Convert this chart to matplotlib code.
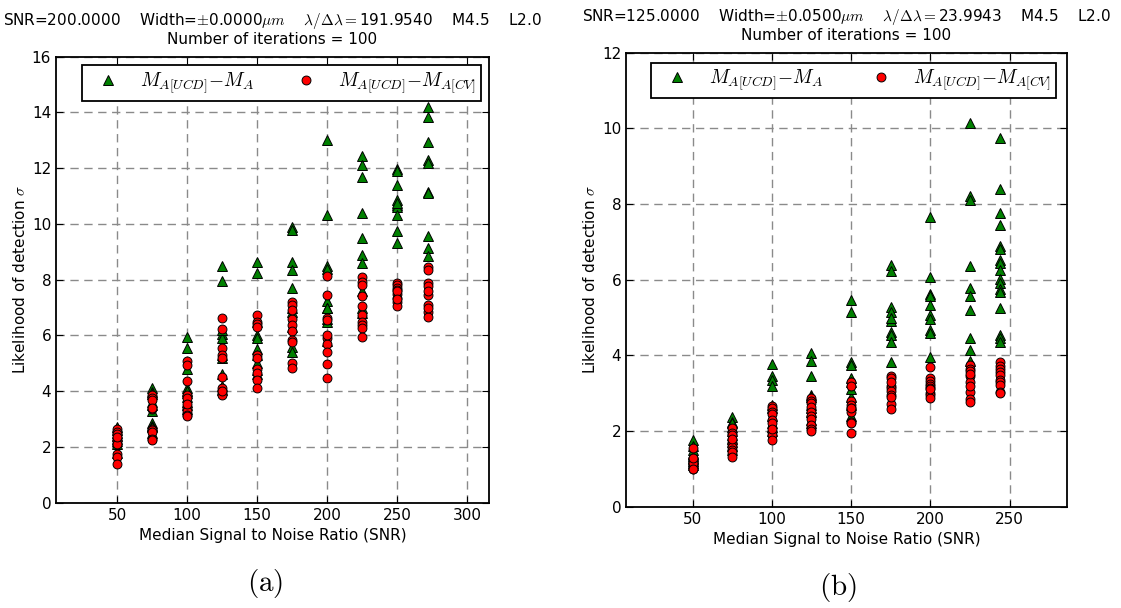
import matplotlib
matplotlib.use("Agg")
import matplotlib.pyplot as plt
import numpy as np

plt.rcParams['mathtext.fontset'] = 'cm'
plt.rcParams['font.family'] = ['DejaVu Sans']

# ---------------- data: panel (a) ----------------
snr_a = [50, 75, 100, 125, 150, 175, 200, 225, 250, 272]
tri_a = [
    [2.72, 2.6, 2.4, 2.3, 2.1, 1.8, 2.5, 2.2],
    [4.12, 3.98, 3.6, 3.5, 2.85, 2.75, 2.7, 3.9, 3.3, 2.5],
    [5.93, 5.56, 4.8, 4.1, 3.95, 3.5, 3.35, 4.0, 3.6, 3.8],
    [8.5, 7.97, 6.05, 5.9, 5.2, 4.6, 4.2, 4.05, 5.3, 6.2],
    [8.65, 8.25, 6.0, 5.9, 5.5, 4.75, 4.6, 5.0, 6.5, 5.3],
    [9.88, 9.78, 8.64, 8.35, 7.7, 6.97, 6.85, 5.6, 5.42, 6.3],
    [13.0, 10.33, 8.5, 8.4, 7.25, 6.97, 6.5, 7.0, 6.6, 5.8],
    [12.42, 12.12, 11.7, 10.38, 9.49, 8.89, 8.61, 7.6, 7.0, 6.8],
    [11.97, 11.9, 11.38, 10.86, 10.68, 10.6, 10.32, 9.76, 9.33, 10.75],
    [14.18, 13.83, 12.95, 12.3, 12.2, 11.15, 11.1, 9.58, 9.13, 8.86],
]
circ_a = [
    [2.65, 2.55, 2.45, 2.3, 2.2, 2.1, 1.75, 1.65, 1.4, 2.35],
    [3.85, 3.75, 3.7, 3.35, 2.65, 2.6, 2.55, 2.3, 2.25, 3.4],
    [5.1, 4.95, 4.35, 3.85, 3.75, 3.4, 3.3, 3.15, 3.1, 3.55],
    [6.62, 6.22, 5.56, 5.3, 5.2, 4.5, 4.12, 3.92, 3.85, 4.0],
    [6.73, 6.5, 6.4, 6.3, 5.3, 5.2, 4.8, 4.65, 4.4, 4.1],
    [7.2, 7.1, 6.6, 6.38, 6.15, 5.85, 5.75, 5.0, 4.82, 6.9],
    [8.13, 7.45, 6.62, 6.55, 5.9, 5.7, 5.42, 4.98, 4.47, 6.0],
    [8.11, 7.93, 7.8, 7.43, 7.06, 6.73, 6.5, 6.38, 6.28, 5.93],
    [7.88, 7.8, 7.7, 7.62, 7.5, 7.35, 7.2, 7.05, 7.6, 7.3],
    [8.47, 8.35, 7.87, 7.78, 7.45, 7.1, 6.85, 6.65, 7.0, 7.6],
]

# ---------------- data: panel (b) ----------------
snr_b = [50, 75, 100, 125, 150, 175, 200, 225, 244]
tri_b = [
    [1.76, 1.6, 1.4, 1.3, 1.2, 1.1, 1.25, 1.35, 1.5, 1.15],
    [2.38, 2.24, 2.1, 2.0, 1.9, 1.7, 1.6, 1.5, 1.8, 2.2],
    [3.77, 3.45, 3.35, 3.2, 2.6, 2.4, 2.2, 2.1, 2.0, 2.7],
    [4.05, 3.86, 3.45, 2.95, 2.9, 2.6, 2.5, 2.3, 2.7, 2.2],
    [5.46, 5.15, 3.83, 3.74, 3.4, 3.3, 2.9, 2.7, 2.4, 3.1],
    [6.38, 6.22, 5.28, 5.15, 4.9, 4.62, 4.55, 4.36, 3.83, 5.0],
    [7.66, 6.06, 5.63, 5.56, 5.33, 5.06, 4.97, 4.68, 4.6, 3.96],
    [10.14, 8.2, 8.1, 6.36, 5.77, 5.57, 5.19, 4.45, 4.15, 3.86],
    [9.74, 8.41, 7.76, 7.44, 6.88, 6.82, 6.51, 6.43, 6.25, 6.03, 5.9,
     5.75, 5.68, 5.24, 4.53, 4.45, 4.36],
]
circ_b = [
    [1.55, 1.3, 1.25, 1.2, 1.1, 1.05, 1.0, 1.15, 1.0, 1.28],
    [2.07, 1.95, 1.89, 1.72, 1.65, 1.58, 1.5, 1.45, 1.32, 1.8],
    [2.65, 2.6, 2.5, 2.45, 2.3, 2.2, 1.98, 1.9, 1.76, 2.05],
    [2.86, 2.8, 2.75, 2.64, 2.5, 2.4, 2.33, 2.16, 2.05, 2.0],
    [3.3, 3.2, 2.8, 2.7, 2.62, 2.5, 2.25, 2.22, 1.94, 2.6],
    [3.45, 3.4, 3.2, 3.15, 3.05, 2.95, 2.72, 2.57, 3.3, 2.9],
    [3.68, 3.4, 3.33, 3.25, 3.2, 3.14, 3.0, 2.95, 2.86, 3.1],
    [3.74, 3.65, 3.6, 3.45, 3.3, 3.04, 2.84, 2.76, 3.5, 3.2],
    [3.83, 3.72, 3.65, 3.55, 3.48, 3.35, 3.3, 3.21, 3.04, 3.0],
]

titles = [
    "SNR=200.0000    Width=$\\pm$0.0000$\\mu m$    $\\lambda/\\Delta\\lambda=$191.9540    M4.5    L2.0\nNumber of iterations = 100",
    "SNR=125.0000    Width=$\\pm$0.0500$\\mu m$    $\\lambda/\\Delta\\lambda=$23.9943    M4.5    L2.0\nNumber of iterations = 100",
]
label_tri = r"$M_{A[UCD]}{-}M_A$"
label_circ = r"$M_{A[UCD]}{-}M_{A[CV]}$"
xlabel = "Median Signal to Noise Ratio (SNR)"
ylabel = "Likelihood of detection $\\sigma$"

W, H = 1121, 608
fig = plt.figure(figsize=(W / 100, H / 100), dpi=100)


def px_axes(l, t, r, b):
    return fig.add_axes([l / W, 1 - b / H, (r - l) / W, (b - t) / H])


def flat(xs, ys):
    X, Y = [], []
    for x, col in zip(xs, ys):
        X += [x] * len(col)
        Y += list(col)
    return np.array(X), np.array(Y)


panels = [
    dict(rect=(56, 56.7, 489, 502.7), snr=snr_a, tri=tri_a, circ=circ_a,
         xlim=(6.4, 315.7), ylim=(0, 16), yt=np.arange(0, 17, 2),
         xt=[50, 100, 150, 200, 250, 300], leg=(82, 64, 481, 102),
         title=titles[0], tag="(a)", tagpos=(265, 583)),
    dict(rect=(626, 52.7, 1066.7, 506.7), snr=snr_b, tri=tri_b, circ=circ_b,
         xlim=(8, 286), ylim=(0, 12), yt=np.arange(0, 13, 2),
         xt=[50, 100, 150, 200, 250], leg=(651, 61, 1056, 99.5),
         title=titles[1], tag="(b)", tagpos=(838, 588)),
]

for p in panels:
    l, t, r, b = p["rect"]
    ax = px_axes(l, t, r, b)
    xt, yt = flat(p["snr"], p["tri"])
    xc, yc = flat(p["snr"], p["circ"])
    ax.plot(xt, yt, linestyle="none", marker="^", markersize=7,
            markerfacecolor="#008000", markeredgecolor="black",
            markeredgewidth=0.7, label=label_tri, zorder=3)
    ax.plot(xc, yc, linestyle="none", marker="o", markersize=6.4,
            markerfacecolor="#ff0000", markeredgecolor="black",
            markeredgewidth=0.7, label=label_circ, zorder=4)
    ax.set_xlim(*p["xlim"])
    ax.set_ylim(*p["ylim"])
    ax.set_xticks(p["xt"])
    ax.set_yticks(p["yt"])
    ax.grid(True, color="#8a8a8a", linestyle=(0, (6, 4)), linewidth=1.0)
    ax.set_axisbelow(True)
    ax.tick_params(direction="in", length=5, width=0.8, top=True, right=True,
                   labelsize=11, colors="black")
    for s in ax.spines.values():
        s.set_linewidth(1.3)
    ax.set_xlabel(xlabel, fontsize=11, labelpad=4)
    ax.set_ylabel(ylabel, fontsize=11, labelpad=3)
    ax.set_title(p["title"], fontsize=11, pad=9, linespacing=1.1)
    ll, lt, lr, lb = p["leg"]
    x0 = (ll - l) / (r - l)
    w = (lr - ll) / (r - l)
    y0 = (b - lb) / (b - t)
    h = (lb - lt) / (b - t)
    leg = ax.legend(loc="center", bbox_to_anchor=(x0, y0, w, h), mode="expand",
                    ncol=2, fontsize=14, numpoints=1, handlelength=2.2,
                    handletextpad=0.55, borderaxespad=0, borderpad=0.25,
                    fancybox=False, shadow=False, framealpha=1)
    leg.get_frame().set_edgecolor("black")
    leg.get_frame().set_linewidth(1.3)
    fig.text(p["tagpos"][0] / W, 1 - p["tagpos"][1] / H, "$\\mathrm{" + p["tag"] + "}$",
             ha="center", va="center", fontsize=21)

fig.savefig("out.png", dpi=100)
